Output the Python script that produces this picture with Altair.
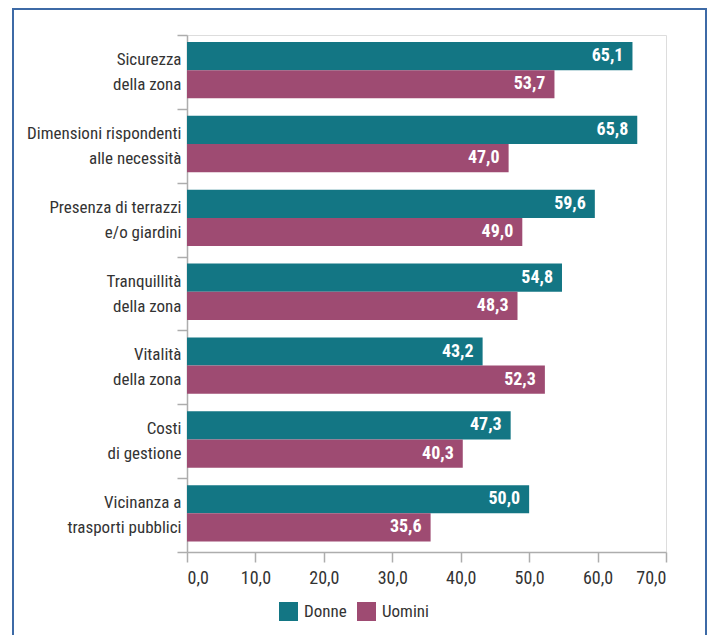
import altair as alt
import pandas as pd

categories = [
    "Sicurezza|della zona",
    "Dimensioni rispondenti|alle necessità",
    "Presenza di terrazzi|e/o giardini",
    "Tranquillità|della zona",
    "Vitalità|della zona",
    "Costi|di gestione",
    "Vicinanza a|trasporti pubblici",
]
series = ["Donne", "Uomini"]
donne = [65.1, 65.8, 59.6, 54.8, 43.2, 47.3, 50.0]
uomini = [53.7, 47.0, 49.0, 48.3, 52.3, 40.3, 35.6]
x_ticks = [0, 10, 20, 30, 40, 50, 60, 70]

rows = []
for c, d, u in zip(categories, donne, uomini):
    for s, v in ((series[0], d), (series[1], u)):
        rows.append({"cat": c, "serie": s, "val": v, "lab": f"{v:.1f}".replace(".", ",")})
df = pd.DataFrame(rows)

FONT = "Roboto Condensed, Liberation Sans Narrow, DejaVu Sans Condensed, Roboto"
TEAL = "#137684"
MAUVE = "#9e4b72"
GREY = "#adadad"
TXT = "#333333"

y_enc = alt.Y(
    "cat:N",
    sort=categories,
    title=None,
    scale=alt.Scale(paddingInner=0, paddingOuter=0),
    axis=alt.Axis(
        labelExpr="split(datum.label, '|')",
        labelFont=FONT,
        labelFontSize=17,
        labelColor=TXT,
        labelLineHeight=25,
        labelPadding=-4,
        labelOffset=-12.5,
        tickSize=10,
        tickColor=GREY,
        tickWidth=1.5,
        domainColor=GREY,
        domainWidth=1.5,
        tickBand="extent",
        grid=False,
    ),
)
yoff = alt.YOffset("serie:N", sort=series,
                   scale=alt.Scale(paddingInner=0, paddingOuter=0.31, align=0.4))

x_enc = alt.X(
    "val:Q",
    title=None,
    scale=alt.Scale(domain=[0, 70], nice=False),
    axis=alt.Axis(
        values=x_ticks,
        labelExpr="replace(format(datum.value, '.1f'), '.', ',')",
        labelFont=FONT,
        labelFontSize=18,
        labelColor=TXT,
        labelPadding=7,
        tickSize=10,
        tickColor=GREY,
        tickWidth=1.5,
        domainColor=GREY,
        domainWidth=1.5,
        grid=False,
    ),
)

base = alt.Chart(df).encode(y=y_enc, yOffset=yoff)

bars = base.mark_bar().encode(
    x=x_enc,
    color=alt.Color(
        "serie:N",
        sort=series,
        scale=alt.Scale(domain=series, range=[TEAL, MAUVE]),
        legend=alt.Legend(
            title=None,
            orient="none",
            direction="horizontal",
            legendX=92,
            legendY=567,
            symbolType="square",
            symbolSize=361,
            symbolStrokeWidth=0,
            symbolOpacity=1,
            labelFont=FONT,
            labelFontSize=17,
            labelColor=TXT,
            labelOffset=6,
            columnPadding=10,
            padding=0,
        ),
    ),
)

labels = base.mark_text(
    align="right", baseline="middle", dx=-9, color="white",
    fontWeight="bold", font=FONT, fontSize=18,
).encode(x=alt.X("val:Q"), text="lab:N")

border = alt.Chart(pd.DataFrame({"k": [0]})).mark_rect(
    fillOpacity=0, stroke="#3d6aa6", strokeWidth=2
).encode(
    x=alt.value(-174), x2=alt.value(519), y=alt.value(-26), y2=alt.value(640)
)

chart = alt.layer(border, bars, labels).properties(
    width=479,
    height=517,
    padding={"left": 179, "top": 27, "right": 41, "bottom": 83},
    autosize=alt.AutoSizeParams(type="none"),
).configure_view(stroke=None).configure(background="white")

chart.save("out.html", embed_options={"renderer": "svg", "actions": False})
